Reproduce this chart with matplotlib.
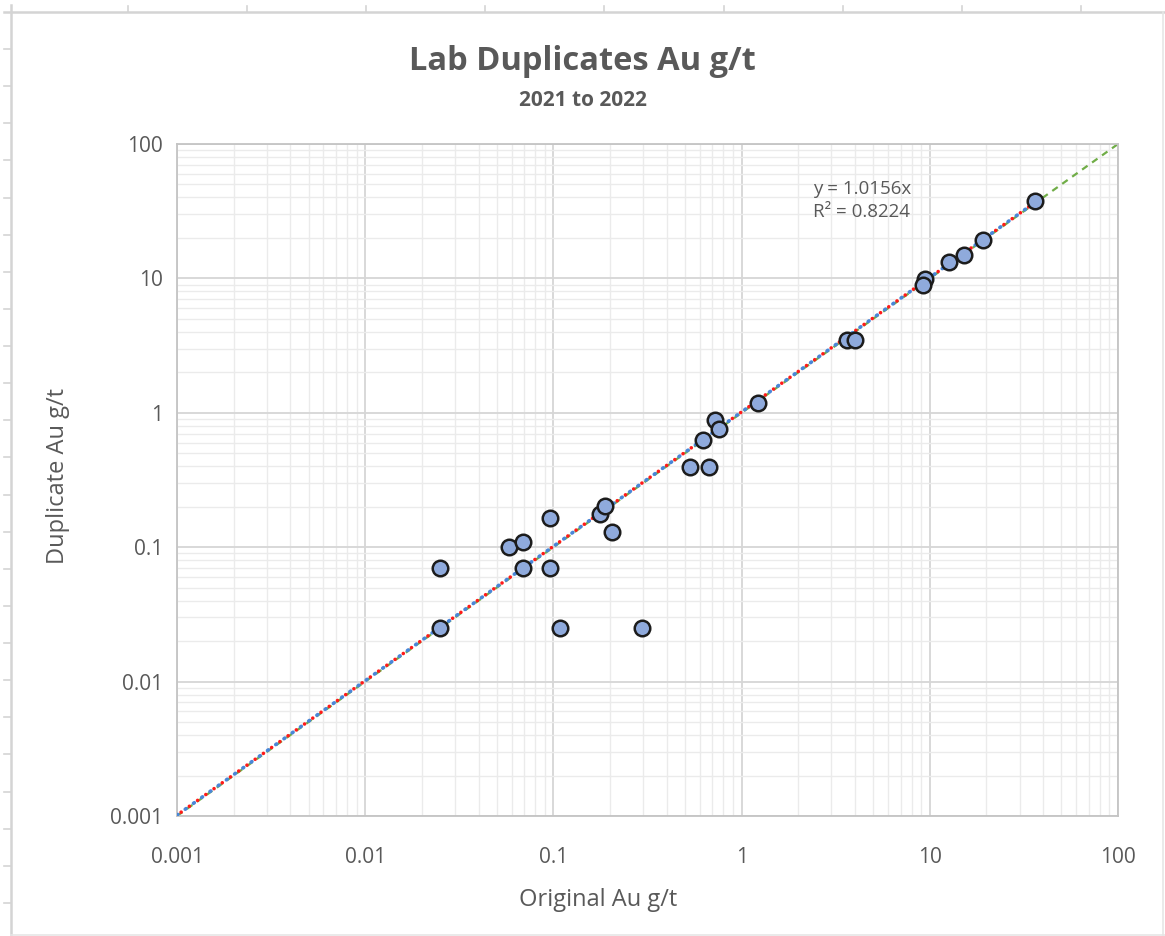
import numpy as np
import matplotlib.pyplot as plt
from matplotlib.lines import Line2D
from matplotlib.ticker import LogLocator, FixedLocator, FixedFormatter, NullFormatter

plt.rcParams['font.family'] = ['Open Sans', 'DejaVu Sans']

# lab duplicate pairs, Au g/t
original = [0.025, 0.025, 0.058, 0.069, 0.069, 0.096, 0.096, 0.109, 0.176, 0.187,
            0.206, 0.297, 0.529, 0.667, 0.621, 0.718, 0.755, 1.22, 3.62, 3.99,
            9.40, 9.18, 12.6, 15.2, 19.1, 36.2]
duplicate = [0.070, 0.025, 0.100, 0.110, 0.070, 0.166, 0.070, 0.025, 0.178, 0.201,
             0.129, 0.025, 0.392, 0.392, 0.632, 0.890, 0.763, 1.19, 3.50, 3.50,
             9.93, 8.96, 13.3, 15.0, 19.4, 37.7]

slope = 1.0156
r2 = 0.8224
ticks = [0.001, 0.01, 0.1, 1, 10, 100]
tick_labels = ['0.001', '0.01', '0.1', '1', '10', '100']

grey = '#595959'
W, H = 1165, 936
fig = plt.figure(figsize=(W / 100, H / 100), dpi=100)

# spreadsheet frame around the chart object
frame_c = '#d4d4d4'
fig.add_artist(Line2D([4 / W, 1], [1 - 12 / H, 1 - 12 / H], color=frame_c, lw=1.8))
fig.add_artist(Line2D([11 / W, 11 / W], [0, 1 - 5 / H], color=frame_c, lw=1.8))
fig.add_artist(Line2D([1163 / W, 1163 / W], [0, 1 - 12 / H], color='#e6e6e6', lw=1.2))
fig.add_artist(Line2D([11 / W, 1], [1 / H, 1 / H], color='#e6e6e6', lw=1.2))
for px in np.arange(128, 1100, 119.1):
    fig.add_artist(Line2D([px / W, px / W], [1 - 6 / H, 1 - 12 / H], color=frame_c, lw=1.2))
for py in np.arange(49, 930, 37.13):
    fig.add_artist(Line2D([4 / W, 11 / W], [1 - py / H, 1 - py / H], color=frame_c, lw=1.2))

ax = fig.add_axes([177 / W, 1 - 816 / H, (1118 - 177) / W, (816 - 144) / H])
ax.set_xscale('log')
ax.set_yscale('log')
ax.set_xlim(0.001, 100)
ax.set_ylim(0.001, 100)

for axis in (ax.xaxis, ax.yaxis):
    axis.set_major_locator(FixedLocator(ticks))
    axis.set_major_formatter(FixedFormatter(tick_labels))
    axis.set_minor_locator(LogLocator(base=10, subs=np.arange(2, 10)))
    axis.set_minor_formatter(NullFormatter())

ax.grid(which='major', color='#d6d6d6', lw=1.3)
ax.grid(which='minor', color='#ebebeb', lw=1.0)
ax.set_axisbelow(True)
ax.tick_params(which='both', length=0)
ax.tick_params(axis='both', labelsize=15, colors=grey, pad=10)
ax.tick_params(axis='x', pad=22)
for sp in ax.spines.values():
    sp.set_color('#c4c4c4')
    sp.set_linewidth(1.3)

# 1:1 reference line
ax.plot([0.001, 100], [0.001, 100], color='#70ad47', lw=1.6, ls=(0, (3, 2.5)), zorder=2)

# linear trendline through origin, drawn as alternating blue/red dots
tx = np.array([0.001, max(original)])
ax.plot(tx, slope * tx, color='#4a86d8', lw=2.6, ls=(0, (0.3, 2.5)),
        dash_capstyle='round', zorder=3)
ax.plot(tx, slope * tx, color='#ff1a1a', lw=2.6, ls=(1.4, (0.01, 2.79)),
        dash_capstyle='round', zorder=3)

ax.scatter(original, duplicate, s=125, facecolor='#8faadc', edgecolor='#1c1c1c',
           linewidth=1.8, zorder=4)

ax.text(0.676, 0.947, f'y = {slope}x\nR² = {r2}', transform=ax.transAxes,
        ha='left', va='top', fontsize=13.5, color=grey, linespacing=1.35)

ax.set_xlabel('Original Au g/t', fontsize=17, color=grey)
ax.set_ylabel('Duplicate Au g/t', fontsize=17, color=grey)
ax.xaxis.set_label_coords((598 - 177) / 941, (816 - 900) / 672)
ax.yaxis.set_label_coords((58 - 177) / 941, (816 - 476) / 672)
ax.xaxis.label.set_va('center')
ax.yaxis.label.set_va('center')

fig.text(0.5, 1 - 62 / H, 'Lab Duplicates Au g/t', ha='center', va='center',
         fontsize=23.5, fontweight='bold', color=grey)
fig.text(0.5, 1 - 101 / H, '2021 to 2022', ha='center', va='center',
         fontsize=15, fontweight='bold', color=grey)

fig.savefig('out.png', dpi=100, facecolor='white')
